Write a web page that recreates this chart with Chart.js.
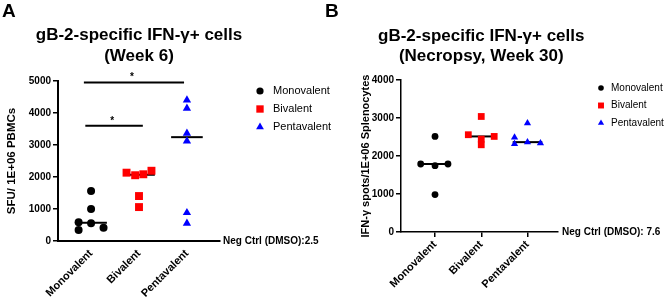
<!DOCTYPE html>
<html>
<head>
<meta charset="utf-8">
<script src="https://cdn.jsdelivr.net/npm/chart.js@4.4.1/dist/chart.umd.min.js"></script>
<style>
body { margin: 0; background: #fff; }
#wrap { position: relative; width: 667px; height: 298px; overflow: hidden; }
canvas { position: absolute; top: 0; }
</style>
</head>
<body>
<div id="wrap">
<canvas id="mycanvasA" width="336" height="298" style="left:0px"></canvas>
<canvas id="mycanvasB" width="342" height="298" style="left:325px"></canvas>
</div>
<script>
var categories = ['Monovalent', 'Bivalent', 'Pentavalent'];
var colors = ['#000000', '#ff0000', '#0000ff'];
var shapes = ['circle', 'rect', 'triangle'];

// panel A - week 6, SFU per 1E+06 PBMCs
var week6Mono = [1560, 1000, 585, 555, 345, 415];
var week6MonoJitter = [0, 0, -0.26, 0, -0.26, 0.26];
var week6Bi = [2135, 2055, 2085, 2195, 1405, 1060];
var week6BiJitter = [-0.26, -0.08, 0.09, 0.26, 0, 0];
var week6Penta = [4405, 4145, 3365, 3125, 885, 555];
var week6PentaJitter = [0, 0, 0, 0, 0, 0];
var week6Ticks = [0, 1000, 2000, 3000, 4000, 5000];
// significance bars
var sigStart = [-0.15, -0.12];
var sigEnd = [1.94, 1.08];
var sigLevel = [4950, 3600];
var sigText = ['*', '*'];

// panel B - necropsy week 30, spots per 1E+06 splenocytes
var week30Mono = [2515, 1790, 1745, 1790, 985];
var week30MonoJitter = [0, -0.31, 0, 0.28, 0];
var week30Bi = [3040, 2560, 2445, 2515, 2295];
var week30BiJitter = [0, -0.28, 0, 0.28, 0];
var week30Penta = [2865, 2490, 2320, 2365, 2340];
var week30PentaJitter = [0, -0.28, -0.28, 0, 0.28];
var week30Ticks = [0, 1000, 2000, 3000, 4000];

var fontName = '"Liberation Sans", Arial, sans-serif';
Chart.defaults.font.family = fontName;
Chart.defaults.color = '#000';

function median(arr)
{
	var s = arr.slice().sort(function(a, b) { return a - b; });
	var m = Math.floor(s.length / 2);
	return s.length % 2 ? s[m] : (s[m - 1] + s[m]) / 2;
}

function points(values, jitter, idx)
{
	var out = [];
	for (var i = 0; i < values.length; i++) {
		out.push({x: idx + jitter[i], y: values[i]});
	}
	return out;
}

function shape(ctx, style, r, x, y)
{
	if (Chart.helpers && Chart.helpers.drawPoint) {
		Chart.helpers.drawPoint(ctx, {pointStyle: style, radius: r, rotation: 0, borderWidth: 0}, x, y);
		return;
	}
	ctx.beginPath();
	if (style == 'circle') ctx.arc(x, y, r, 0, Math.PI * 2);
	else if (style == 'rect') ctx.rect(x - r * 0.707, y - r * 0.707, r * 1.414, r * 1.414);
	else {
		ctx.moveTo(x, y - r);
		ctx.lineTo(x + r * 0.866, y + r / 2);
		ctx.lineTo(x - r * 0.866, y + r / 2);
		ctx.closePath();
	}
	ctx.fill();
}

var decorPlugin = {
	id: 'decor',
	afterDraw: function(chart) {
		var o = chart.options.plugins.decor;
		var ctx = chart.ctx;
		var area = chart.chartArea;
		var xs = chart.scales.x;
		var ys = chart.scales.y;
		ctx.save();
		ctx.fillStyle = '#000';

		ctx.font = 'bold 19px ' + fontName;
		ctx.textAlign = 'left';
		ctx.textBaseline = 'alphabetic';
		ctx.fillText(o.letter, o.letterX, 17);

		ctx.font = 'bold 17px ' + fontName;
		ctx.textAlign = 'center';
		ctx.textBaseline = 'middle';
		for (var i = 0; i < o.title.length; i++) {
			ctx.fillText(o.title[i], xs.getPixelForValue(1), o.titleY[i]);
		}

		ctx.font = 'bold 10px ' + fontName;
		ctx.textAlign = 'left';
		ctx.fillText(o.negCtrl, area.right + o.negGap, ys.getPixelForValue(0));

		if (o.stars) {
			ctx.textAlign = 'center';
			for (var s = 0; s < o.stars.length; s++) {
				var sx = xs.getPixelForValue((sigStart[s] + sigEnd[s]) / 2);
				ctx.fillText(o.stars[s], sx - 2, ys.getPixelForValue(sigLevel[s]) - 5);
			}
		}

		ctx.font = o.legendFont + 'px ' + fontName;
		ctx.textAlign = 'left';
		for (var k = 0; k < categories.length; k++) {
			var ly = o.legendTop + k * o.legendStep;
			ctx.fillStyle = colors[k];
			shape(ctx, shapes[k], o.legendRadius[k], area.right + o.legendMarkX, ly);
			ctx.fillStyle = '#000';
			ctx.fillText(categories[k], area.right + o.legendTextX, ly);
		}
		ctx.restore();
	}
};

function makeChart(id, c)
{
	var datasets = [];
	for (var g = 0; g < 3; g++) {
		datasets.push({
			label: categories[g],
			data: points(c.values[g], c.jitter[g], g),
			backgroundColor: colors[g],
			borderColor: colors[g],
			borderWidth: 0,
			pointStyle: shapes[g],
			pointRadius: c.radius[g],
			showLine: false,
			clip: false
		});
	}
	for (var g2 = 0; g2 < 3; g2++) {
		var m = median(c.values[g2]);
		datasets.push({
			label: '',
			data: [{x: g2 - c.medHalf, y: m}, {x: g2 + c.medHalf, y: m}],
			borderColor: '#000',
			borderWidth: 2,
			pointRadius: 0,
			showLine: true,
			order: 5
		});
	}
	if (c.sig) {
		for (var s = 0; s < sigLevel.length; s++) {
			datasets.push({
				label: '',
				data: [{x: sigStart[s], y: sigLevel[s]}, {x: sigEnd[s], y: sigLevel[s]}],
				borderColor: '#000',
				borderWidth: 2,
				pointRadius: 0,
				showLine: true,
				clip: false
			});
		}
	}

	var ctx = document.getElementById(id);
	return new Chart(ctx, {
		type: 'scatter',
		data: {datasets: datasets},
		plugins: [decorPlugin],
		options: {
			responsive: false,
			animation: false,
			events: [],
			layout: {autoPadding: false, padding: c.padding},
			plugins: {
				legend: {display: false},
				tooltip: {enabled: false},
				decor: c.decor
			},
			scales: {
				x: {
					type: 'linear',
					min: c.xMin,
					max: c.xMax,
					afterBuildTicks: function(scale) {
						scale.ticks = [{value: 0}, {value: 1}, {value: 2}];
					},
					afterFit: function(scale) { scale.height = c.xHeight; },
					ticks: {
						callback: function(v) { return categories[v]; },
						minRotation: 45,
						maxRotation: 45,
						autoSkip: false,
						padding: 1,
						font: {size: 11, weight: 'bold'}
					},
					grid: {drawOnChartArea: false, tickLength: 5, lineWidth: 1.5, tickColor: c.xTickColor},
					border: {color: '#000', width: c.axisWidth, dash: c.xDash}
				},
				y: {
					min: 0,
					max: c.yTicks[c.yTicks.length - 1],
					afterBuildTicks: function(scale) {
						scale.ticks = c.yTicks.map(function(v) { return {value: v}; });
					},
					afterFit: function(scale) { scale.width = c.yWidth; },
					ticks: {
						padding: 2,
						font: {size: 10, weight: 'bold'},
						callback: function(v) { return String(v); }
					},
					title: {
						display: true,
						text: c.yTitle,
						padding: {top: c.yTitlePad, bottom: 0},
						font: {size: c.yTitleSize, weight: 'bold'}
					},
					grid: {drawOnChartArea: false, tickLength: 5, lineWidth: 1.5, tickColor: '#000'},
					border: {color: '#000', width: c.axisWidth}
				}
			}
		}
	});
}

makeChart('mycanvasA', {
	values: [week6Mono, week6Bi, week6Penta],
	jitter: [week6MonoJitter, week6BiJitter, week6PentaJitter],
	radius: [4, 5.6, 4.8],
	medHalf: 0.33,
	sig: true,
	padding: {top: 81, left: 0, right: 116, bottom: 0},
	xMin: -0.69,
	xMax: 2.69,
	xHeight: 57,
	xTickColor: 'rgba(0,0,0,0)',
	xDash: [],
	axisWidth: 2,
	yWidth: 58,
	yTicks: week6Ticks,
	yTitle: 'SFU/ 1E+06 PBMCs',
	yTitleSize: 11.5,
	yTitlePad: 5,
	decor: {
		letter: 'A',
		letterX: 2,
		title: ['gB-2-specific IFN-\u03b3+ cells', '(Week 6)'],
		titleY: [35, 56.5],
		negCtrl: 'Neg Ctrl (DMSO):2.5',
		negGap: 3,
		stars: sigText,
		legendFont: 11,
		legendTop: 91,
		legendStep: 18,
		legendRadius: [3.6, 5.2, 4.5],
		legendMarkX: 40,
		legendTextX: 53
	}
});

makeChart('mycanvasB', {
	values: [week30Mono, week30Bi, week30Penta],
	jitter: [week30MonoJitter, week30BiJitter, week30PentaJitter],
	radius: [3.4, 4.8, 4.2],
	medHalf: 0.32,
	sig: false,
	padding: {top: 80, left: 30, right: 109, bottom: 0},
	xMin: -0.736,
	xMax: 2.66,
	xHeight: 66,
	xTickColor: '#000',
	xDash: [2, 1.5],
	axisWidth: 1.5,
	yWidth: 46,
	yTicks: week30Ticks,
	yTitle: 'IFN-\u03b3 spots/1E+06 Splenocytes',
	yTitleSize: 11,
	yTitlePad: 4,
	decor: {
		letter: 'B',
		letterX: 0,
		title: ['gB-2-specific IFN-\u03b3+ cells', '(Necropsy, Week 30)'],
		titleY: [36, 56],
		negCtrl: 'Neg Ctrl (DMSO): 7.6',
		negGap: 4,
		stars: null,
		legendFont: 10,
		legendTop: 88,
		legendStep: 17.5,
		legendRadius: [2.8, 4.2, 3.6],
		legendMarkX: 43,
		legendTextX: 53
	}
});
</script>
</body>
</html>
